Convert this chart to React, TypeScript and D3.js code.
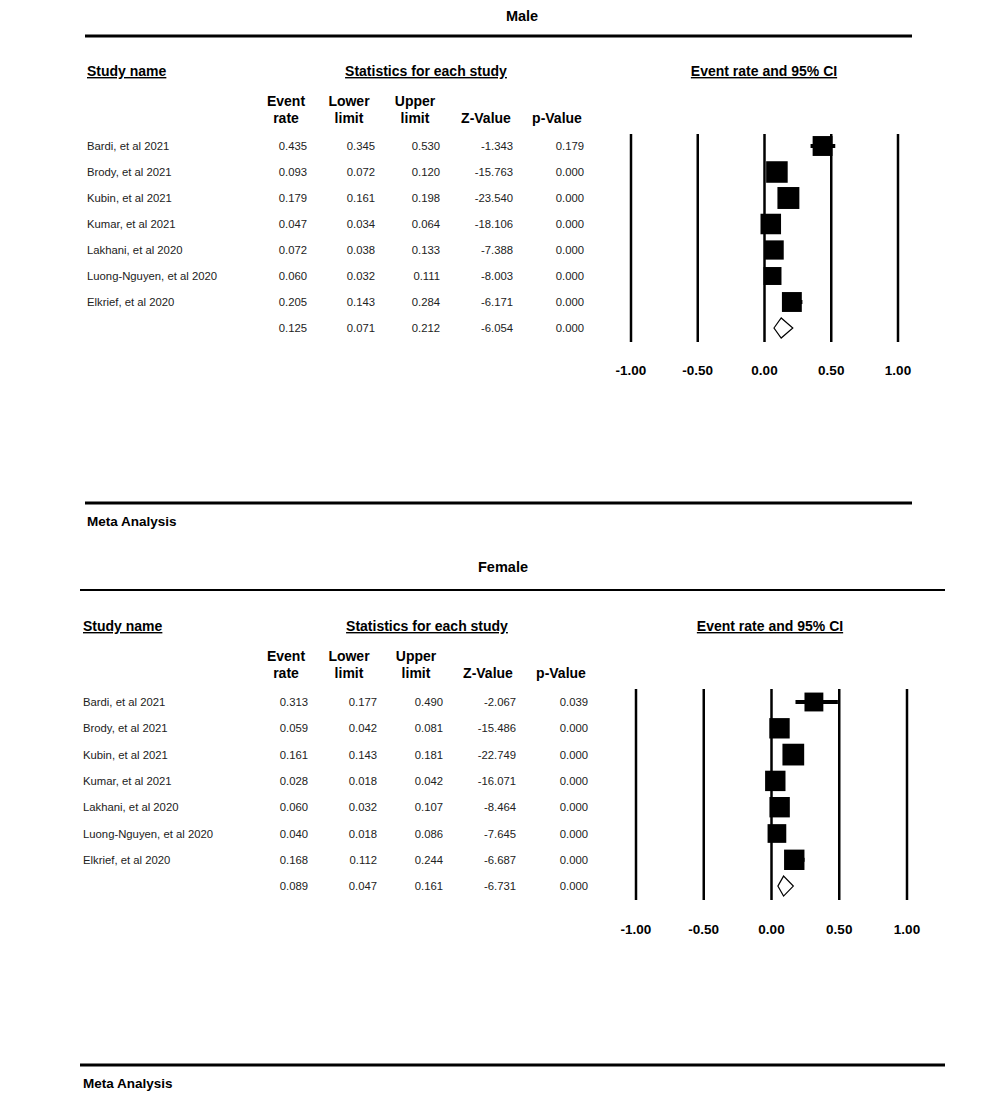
import React from "react";
import * as d3 from "d3";

// ---------- DATA ----------
const studies = [
  "Bardi, et al 2021",
  "Brody, et al 2021",
  "Kubin, et al 2021",
  "Kumar, et al 2021",
  "Lakhani, et al 2020",
  "Luong-Nguyen, et al 2020",
  "Elkrief, et al 2020",
];

const maleEvent = [0.435, 0.093, 0.179, 0.047, 0.072, 0.06, 0.205];
const maleLower = [0.345, 0.072, 0.161, 0.034, 0.038, 0.032, 0.143];
const maleUpper = [0.53, 0.12, 0.198, 0.064, 0.133, 0.111, 0.284];
const maleZ = [-1.343, -15.763, -23.54, -18.106, -7.388, -8.003, -6.171];
const maleP = [0.179, 0.0, 0.0, 0.0, 0.0, 0.0, 0.0];
const maleWeights = [13.9, 16.3, 16.9, 14.8, 13.0, 11.3, 13.9];
const maleSummary = { event: 0.125, lower: 0.071, upper: 0.212, z: -6.054, p: 0.0 };

const femaleEvent = [0.313, 0.059, 0.161, 0.028, 0.06, 0.04, 0.168];
const femaleLower = [0.177, 0.042, 0.143, 0.018, 0.032, 0.018, 0.112];
const femaleUpper = [0.49, 0.081, 0.181, 0.042, 0.107, 0.086, 0.244];
const femaleZ = [-2.067, -15.486, -22.749, -16.071, -8.464, -7.645, -6.687];
const femaleP = [0.039, 0.0, 0.0, 0.0, 0.0, 0.0, 0.0];
const femaleWeights = [12.5, 14.6, 16.6, 14.6, 14.6, 12.3, 14.6];
const femaleSummary = { event: 0.089, lower: 0.047, upper: 0.161, z: -6.731, p: 0.0 };

const tickValues = [-1, -0.5, 0, 0.5, 1];
const colHeaders = [["Event", "rate"], ["Lower", "limit"], ["Upper", "limit"], ["", "Z-Value"], ["", "p-Value"]];

// ---------- LAYOUT ----------
const FONT = "'Liberation Sans', Arial, sans-serif";
const locale = d3.formatLocale({ decimal: ".", thousands: ",", grouping: [3], currency: ["", ""], minus: "-" });
const fmt3 = locale.format(".3f");
const fmtTick = locale.format(".2f");
const sizeScale = d3.scaleSqrt().domain([0, 17]).range([0, 22]);

type PanelProps = {
  title: string;
  event: number[];
  lower: number[];
  upper: number[];
  z: number[];
  p: number[];
  weights: number[];
  summary: { event: number; lower: number; upper: number; z: number; p: number };
  L: any;
};

const maleLayout = {
  titleX: 522, titleY: 21,
  ruleX0: 85, ruleX1: 912, ruleY: 36, ruleW: 3,
  nameX: 87, headY: 76,
  statsX: 426, ciX: 764,
  colCenters: [286, 349, 415, 486, 557],
  colRights: [307, 375, 440, 513, 584],
  h1Y: 106, h2Y: 123,
  rowY0: 146, rowStep: 26,
  plotX0: 631, plotX1: 898, lineY0: 134, lineY1: 342, tickY: 375,
  botY: 503, metaY: 526,
};

const femaleLayout = {
  titleX: 503, titleY: 572,
  ruleX0: 80, ruleX1: 945, ruleY: 590, ruleW: 2,
  nameX: 83, headY: 631,
  statsX: 427, ciX: 770,
  colCenters: [286, 349, 416, 488, 561],
  colRights: [308, 377, 443, 516, 588],
  h1Y: 661, h2Y: 678,
  rowY0: 702, rowStep: 26.3,
  plotX0: 636, plotX1: 907, lineY0: 689, lineY1: 900, tickY: 934,
  botY: 1065, metaY: 1088,
};

function Panel({ title, event, lower, upper, z, p, weights, summary, L }: PanelProps) {
  const x = d3.scaleLinear().domain([-1, 1]).range([L.plotX0, L.plotX1]);
  const y = (i: number) => L.rowY0 + i * L.rowStep;
  const sumY = y(studies.length);
  const hdr = { fontFamily: FONT, fontWeight: 700, fontSize: 14 } as const;
  const cell = { fontFamily: FONT, fontSize: 11.3, fill: "#222" } as const;
  const diamond = d3.line()([
    [x(summary.lower), sumY],
    [x(summary.event), sumY - 10],
    [x(summary.upper), sumY],
    [x(summary.event), sumY + 10],
  ]) + "Z";
  return (
    <g>
      <text x={L.titleX} y={L.titleY} textAnchor="middle" style={{ ...hdr, fontSize: 14.5 }}>{title}</text>
      <line x1={L.ruleX0} x2={L.ruleX1} y1={L.ruleY} y2={L.ruleY} stroke="#000" strokeWidth={L.ruleW} />
      <text x={L.nameX} y={L.headY} style={{ ...hdr, textDecoration: "underline" }}>Study name</text>
      <text x={L.statsX} y={L.headY} textAnchor="middle" style={{ ...hdr, textDecoration: "underline" }}>Statistics for each study</text>
      <text x={L.ciX} y={L.headY} textAnchor="middle" style={{ ...hdr, textDecoration: "underline" }}>Event rate and 95% CI</text>
      {colHeaders.map((h, j) => (
        <g key={j}>
          {h[0] && <text x={L.colCenters[j]} y={L.h1Y} textAnchor="middle" style={hdr}>{h[0]}</text>}
          <text x={L.colCenters[j]} y={L.h2Y} textAnchor="middle" style={hdr}>{h[1]}</text>
        </g>
      ))}
      {studies.map((s, i) => {
        const vals = [fmt3(event[i]), fmt3(lower[i]), fmt3(upper[i]), fmt3(z[i]), fmt3(p[i])];
        return (
          <g key={s}>
            <text x={L.nameX} y={y(i) + 4} style={cell}>{s}</text>
            {vals.map((v, j) => (
              <text key={j} x={L.colRights[j]} y={y(i) + 4} textAnchor="end" style={cell}>{v}</text>
            ))}
          </g>
        );
      })}
      {[summary.event, summary.lower, summary.upper, summary.z, summary.p].map((v, j) => (
        <text key={j} x={L.colRights[j]} y={sumY + 4} textAnchor="end" style={cell}>{fmt3(v)}</text>
      ))}
      {tickValues.map((t) => (
        <g key={t}>
          <line x1={x(t)} x2={x(t)} y1={L.lineY0} y2={L.lineY1} stroke="#000" strokeWidth={2.5} />
          <text x={x(t)} y={L.tickY} textAnchor="middle" style={{ ...hdr, fontSize: 13.5 }}>{fmtTick(t)}</text>
        </g>
      ))}
      {studies.map((s, i) => {
        const sz = sizeScale(weights[i]);
        return (
          <g key={s}>
            <line x1={x(lower[i])} x2={x(upper[i])} y1={y(i)} y2={y(i)} stroke="#000" strokeWidth={4} />
            <rect x={x(event[i]) - sz / 2} y={y(i) - sz / 2} width={sz} height={sz} fill="#000" />
          </g>
        );
      })}
      <path d={diamond} fill="#fff" stroke="#000" strokeWidth={1.2} />
      <line x1={L.ruleX0} x2={L.ruleX1} y1={L.botY} y2={L.botY} stroke="#000" strokeWidth={3} />
      <text x={L.nameX} y={L.metaY} style={{ ...hdr, fontSize: 13.5 }}>Meta Analysis</text>
    </g>
  );
}

export default function App() {
  return (
    <svg width={1000} height={1101} style={{ position: "absolute", left: 0, top: 0, background: "#fff" }}>
      <rect width={1000} height={1101} fill="#fff" />
      <Panel title="Male" event={maleEvent} lower={maleLower} upper={maleUpper} z={maleZ} p={maleP}
        weights={maleWeights} summary={maleSummary} L={maleLayout} />
      <Panel title="Female" event={femaleEvent} lower={femaleLower} upper={femaleUpper} z={femaleZ} p={femaleP}
        weights={femaleWeights} summary={femaleSummary} L={femaleLayout} />
    </svg>
  );
}
